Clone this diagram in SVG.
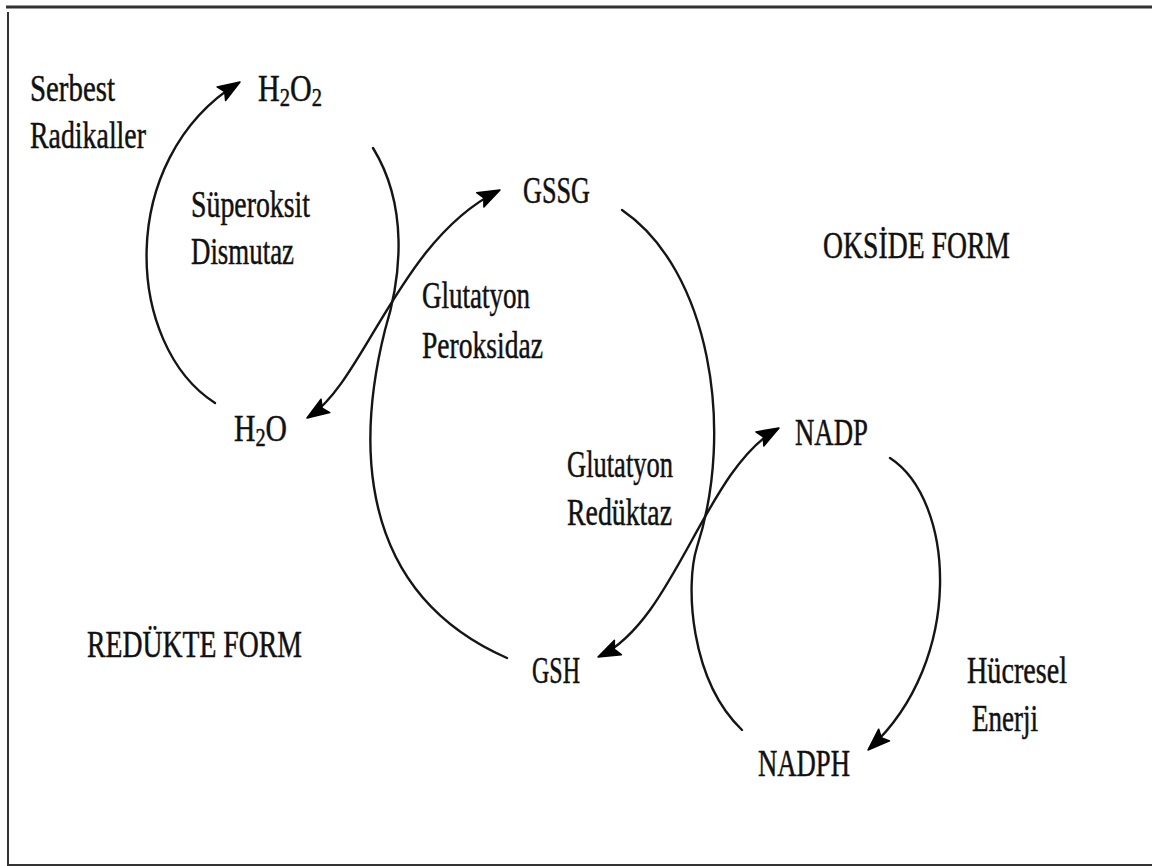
<svg xmlns="http://www.w3.org/2000/svg" width="1152" height="866" viewBox="0 0 1152 866">
<style>
.t{font-family:"Liberation Serif","Times New Roman",serif;font-size:38px;fill:#111;stroke:#111;stroke-width:0.5}
.c{fill:none;stroke:#151515;stroke-width:2.4;stroke-linecap:round}
.sub{font-size:26px}
.ah{fill:#000;stroke:#000;stroke-width:1.5;stroke-linejoin:round}
</style>
<rect x="0" y="0" width="1152" height="866" fill="#fff"/>
<g id="frame">
<line x1="6" y1="7" x2="1152" y2="7" stroke="#333" stroke-width="3"/>
<line x1="8" y1="12" x2="8" y2="866" stroke="#333" stroke-width="2"/>
<line x1="8" y1="865" x2="1152" y2="865" stroke="#333" stroke-width="2"/>
</g>
<g id="connectors">
<path class="c" d="M215,403 C125,345 115,160 238,83"/>
<path class="c" d="M373,148 C408,205 402,275 385,330 C370,390 330,580 507,658"/>
<path class="c" d="M309,417 C365,380 400,240 498,191"/>
<path class="c" d="M622,210 C710,270 735,430 697,547 C685,585 690,680 742,730"/>
<path class="c" d="M600,656 C675,620 705,470 777,429"/>
<path class="c" d="M890,458 C955,500 965,660 870,748"/>
<polygon class="ah" points="240,82 225.6,100.5 224.7,91.5 217.1,86.9"/>
<polygon class="ah" points="307,418 321.0,399.2 322.1,408.1 329.8,412.6"/>
<polygon class="ah" points="500,190 483.9,207.0 483.9,198.0 476.7,192.7"/>
<polygon class="ah" points="598,657 614.4,640.3 614.2,649.2 621.3,654.7"/>
<polygon class="ah" points="779,428 763.8,445.9 763.3,436.9 755.9,431.9"/>
<polygon class="ah" points="868,750 878.7,729.2 881.2,737.8 889.5,740.9"/>
</g>
<g id="serbest-radikaller"><text class="t" x="30" y="101" textLength="85" lengthAdjust="spacingAndGlyphs">Serbest</text><text class="t" x="30" y="148" textLength="116" lengthAdjust="spacingAndGlyphs">Radikaller</text></g>
<g id="h2o2"><text class="t" x="258" y="101" textLength="64" lengthAdjust="spacingAndGlyphs">H<tspan class="sub" dy="5">2</tspan><tspan dy="-5">O</tspan><tspan class="sub" dy="5">2</tspan></text></g>
<g id="sod"><text class="t" x="191" y="217" textLength="119" lengthAdjust="spacingAndGlyphs">Süperoksit</text><text class="t" x="191" y="264" textLength="103" lengthAdjust="spacingAndGlyphs">Dismutaz</text></g>
<g id="gssg"><text class="t" x="523" y="203" textLength="67" lengthAdjust="spacingAndGlyphs">GSSG</text></g>
<g id="okside"><text class="t" x="823" y="258" textLength="187" lengthAdjust="spacingAndGlyphs">OKSİDE FORM</text></g>
<g id="gpx"><text class="t" x="422" y="308" textLength="108" lengthAdjust="spacingAndGlyphs">Glutatyon</text><text class="t" x="422" y="358" textLength="121" lengthAdjust="spacingAndGlyphs">Peroksidaz</text></g>
<g id="h2o"><text class="t" x="234" y="441" textLength="53" lengthAdjust="spacingAndGlyphs">H<tspan class="sub" dy="5">2</tspan><tspan dy="-5">O</tspan></text></g>
<g id="nadp"><text class="t" x="795" y="445" textLength="73" lengthAdjust="spacingAndGlyphs">NADP</text></g>
<g id="gr"><text class="t" x="567" y="477" textLength="106" lengthAdjust="spacingAndGlyphs">Glutatyon</text><text class="t" x="567" y="525" textLength="105" lengthAdjust="spacingAndGlyphs">Redüktaz</text></g>
<g id="redukte"><text class="t" x="87" y="657" textLength="215" lengthAdjust="spacingAndGlyphs">REDÜKTE FORM</text></g>
<g id="gsh"><text class="t" x="532" y="683" textLength="48" lengthAdjust="spacingAndGlyphs">GSH</text></g>
<g id="enerji"><text class="t" x="967" y="683" textLength="100" lengthAdjust="spacingAndGlyphs">Hücresel</text><text class="t" x="972" y="731" textLength="66" lengthAdjust="spacingAndGlyphs">Enerji</text></g>
<g id="nadph"><text class="t" x="758" y="776" textLength="92" lengthAdjust="spacingAndGlyphs">NADPH</text></g>
</svg>
